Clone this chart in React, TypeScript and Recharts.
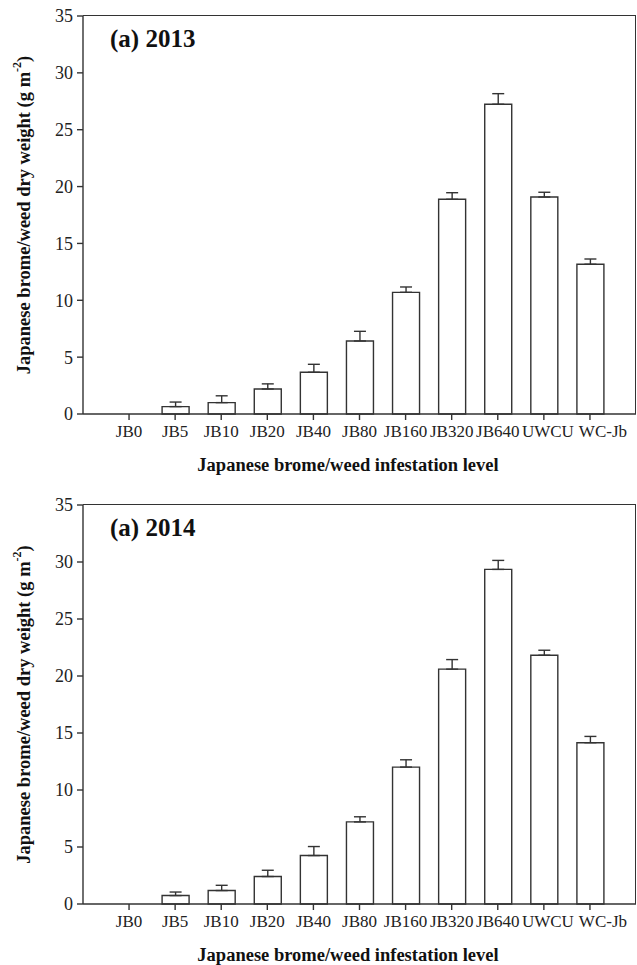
import React from "react";
import { BarChart, Bar, XAxis, YAxis, ErrorBar, Label } from "recharts";

const categories = ["JB0", "JB5", "JB10", "JB20", "JB40", "JB80", "JB160", "JB320", "JB640", "UWCU", "WC-Jb"];
const weight2013 = [0, 0.65, 1.0, 2.2, 3.67, 6.42, 10.7, 18.88, 27.24, 19.08, 13.17];
const se2013 = [0, 0.4, 0.6, 0.45, 0.7, 0.85, 0.47, 0.58, 0.93, 0.42, 0.46];
const weight2014 = [0, 0.74, 1.18, 2.41, 4.25, 7.2, 12.01, 20.6, 29.35, 21.82, 14.15];
const se2014 = [0, 0.31, 0.46, 0.55, 0.79, 0.45, 0.64, 0.84, 0.79, 0.44, 0.55];
const yTicks = [0, 5, 10, 15, 20, 25, 30, 35];

const FONT = "'Liberation Serif', 'Times New Roman', serif";
const INK = "#333";

// the last two labels sit a little right of their ticks in the original
const labelShift: Record<string, number> = { UWCU: 4, "WC-Jb": 13 };

const CategoryTick = (props: any) => {
  const { x, y, payload } = props;
  const shift = labelShift[payload.value] || 0;
  return (
    <text x={x + shift} y={y} dy="0.71em" textAnchor="middle" fontFamily={FONT} fontSize={17} fill="#222">
      {payload.value}
    </text>
  );
};

interface PanelProps {
  title: string;
  values: number[];
  errors: number[];
  height: number;
  top: number;
  bottom: number;
}

const Panel: React.FC<PanelProps> = ({ title, values, errors, height, top, bottom }) => {
  const data = categories.map((name, i) => ({
    name,
    weight: values[i],
    err: [0, errors[i]],
  }));

  const yTitle = (props: any) => {
    const vb = props.viewBox;
    const cy = vb.y + vb.height / 2;
    return (
      <text
        x={24}
        y={cy}
        transform={`rotate(-90, 24, ${cy})`}
        textAnchor="middle"
        dominantBaseline="central"
        fontFamily={FONT}
        fontWeight="bold"
        fontSize={18.5}
        fill="#111"
      >
        Japanese brome/weed dry weight (g m
        <tspan dy={-7} fontSize={12}>-2</tspan>
        <tspan dy={7}>)</tspan>
      </text>
    );
  };

  const xTitle = (props: any) => {
    const vb = props.viewBox;
    return (
      <text x={348} y={vb.y + 57} textAnchor="middle" fontFamily={FONT} fontWeight="bold" fontSize={18.5} fill="#111">
        Japanese brome/weed infestation level
      </text>
    );
  };

  return (
    <div style={{ position: "relative", width: 637, height }}>
      <BarChart width={637} height={height} data={data} margin={{ top, right: 1, left: 43, bottom }}>
        <XAxis
          dataKey="name"
          padding={{ left: 23, right: 23 }}
          height={30}
          tickSize={6}
          tickMargin={5}
          interval={0}
          stroke={INK}
          strokeWidth={1.4}
          tick={<CategoryTick />}
        >
          <Label content={xTitle} />
        </XAxis>
        <YAxis
          domain={[0, 35]}
          ticks={yTicks}
          width={40}
          tickSize={6}
          tickMargin={4}
          stroke={INK}
          strokeWidth={1.4}
          tick={{ fontFamily: FONT, fontSize: 18, fill: "#222" }}
        >
          <Label content={yTitle} />
        </YAxis>
        <Bar dataKey="weight" barSize={27} fill="#fff" stroke={INK} strokeWidth={1.4} isAnimationActive={false}>
          <ErrorBar dataKey="err" width={6} stroke={INK} strokeWidth={1.4} direction="y" />
        </Bar>
      </BarChart>
      {/* top and right frame of the plot area */}
      <div
        style={{
          position: "absolute",
          left: 83,
          top: top - 0.7,
          width: 636 - 83,
          height: 0,
          borderTop: `1.4px solid ${INK}`,
        }}
      />
      <div
        style={{
          position: "absolute",
          left: 635.3,
          top: top - 0.7,
          width: 0,
          height: height - top - bottom - 30 + 0.7,
          borderLeft: `1.4px solid ${INK}`,
        }}
      />
      <div
        style={{
          position: "absolute",
          left: 110,
          top: top + 10,
          fontFamily: FONT,
          fontWeight: "bold",
          fontSize: 25,
          color: "#111",
          lineHeight: 1,
        }}
      >
        {title}
      </div>
    </div>
  );
};

export default function App() {
  return (
    <div style={{ position: "absolute", left: 0, top: 0, width: 637, height: 965, background: "#fff" }}>
      <Panel title="(a) 2013" values={weight2013} errors={se2013} height={488} top={16} bottom={44} />
      <Panel title="(a) 2014" values={weight2014} errors={se2014} height={477} top={17} bottom={31} />
    </div>
  );
}
